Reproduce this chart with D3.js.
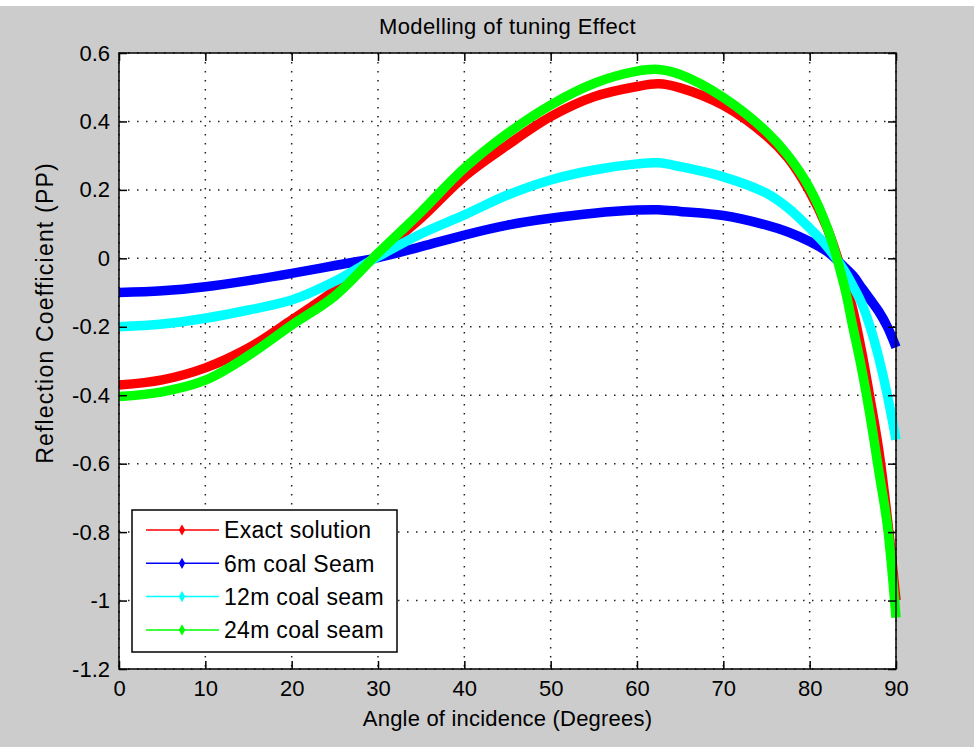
<!DOCTYPE html>
<html>
<head>
<meta charset="utf-8">
<script src="https://cdn.jsdelivr.net/npm/d3@7"></script>
<style>
	body { margin:0; background:#cccccc; }
	text { font-family: "Liberation Sans", Arial, sans-serif; fill:#000; }
</style>
</head>
<body>
<div id="chart" style="width:974px;height:747px;"></div>
<script>

//data
const angles = [0,5,10,15,20,25,30,35,40,45,50,55,60,62.5,65,70,75,77.5,80,82,84,85,86,87,88,89,90];
const exactSolution = [-0.37,-0.355,-0.32,-0.262,-0.18,-0.093,0.012,0.118,0.239,0.331,0.414,0.472,0.502,0.51,0.498,0.447,0.358,0.293,0.195,0.09,-0.06,-0.15,-0.27,-0.41,-0.56,-0.76,-1.0];
const seam6m = [-0.1,-0.095,-0.083,-0.065,-0.044,-0.021,0.002,0.034,0.068,0.097,0.117,0.132,0.141,0.142,0.137,0.125,0.097,0.077,0.049,0.02,-0.025,-0.05,-0.085,-0.12,-0.155,-0.2,-0.26];
const seam12m = [-0.2,-0.192,-0.175,-0.151,-0.122,-0.067,0.005,0.072,0.127,0.185,0.229,0.258,0.276,0.279,0.268,0.238,0.19,0.147,0.088,0.035,-0.035,-0.08,-0.13,-0.2,-0.29,-0.4,-0.53];
const seam24m = [-0.404,-0.39,-0.356,-0.284,-0.195,-0.11,0.015,0.136,0.263,0.365,0.448,0.511,0.547,0.552,0.537,0.47,0.37,0.3,0.205,0.092,-0.08,-0.2,-0.32,-0.46,-0.62,-0.78,-1.05];

const seriesNames = ['Exact solution','6m coal Seam','12m coal seam','24m coal seam'];
const seriesColors = ['#ff0000','#0000ff','#00ffff','#00ff00'];
const seriesValues = [exactSolution, seam6m, seam12m, seam24m];

const xTicks = [0,10,20,30,40,50,60,70,80,90];
const yTicks = [0.6,0.4,0.2,0,-0.2,-0.4,-0.6,-0.8,-1,-1.2];

const rootDOM = document.getElementById('chart');
const W = 974;
const H = 747;
const margin = {t:53, r:78, b:78, l:119};
const innerWidth = W - margin.l - margin.r;
const innerHeight = H - margin.t - margin.b;

const scaleX = d3.scaleLinear().domain([0,90]).range([0, innerWidth]);
const scaleY = d3.scaleLinear().domain([-1.2,0.6]).range([innerHeight, 0]);

const lineGenerator = d3.line()
	.x(d => scaleX(d[0]))
	.y(d => scaleY(d[1]))
	.curve(d3.curveCatmullRom.alpha(0.5));

const svg = d3.select(rootDOM)
	.append('svg')
	.attr('width', W)
	.attr('height', H);

svg.append('rect').attr('width', W).attr('height', H).style('fill','#cccccc');
svg.append('rect').attr('width', W).attr('height', 6).style('fill','#ffffff');

const plot = svg.append('g')
	.attr('class','plot')
	.attr('transform', `translate(${margin.l}, ${margin.t})`);

plot.append('rect')
	.attr('width', innerWidth)
	.attr('height', innerHeight)
	.style('fill','#ffffff');

//dotted grid
plot.append('g').selectAll('line')
	.data(xTicks)
	.join('line')
	.attr('x1', d => scaleX(d)).attr('x2', d => scaleX(d))
	.attr('y1', 0).attr('y2', innerHeight)
	.style('stroke','#222').style('stroke-width',1.5).style('stroke-dasharray','1.5,7.5');
plot.append('g').selectAll('line')
	.data(yTicks)
	.join('line')
	.attr('y1', d => scaleY(d)).attr('y2', d => scaleY(d))
	.attr('x1', 0).attr('x2', innerWidth)
	.style('stroke','#222').style('stroke-width',1.5).style('stroke-dasharray','1.5,7.5');

//curves
seriesValues.forEach((vals, i) => {
	plot.append('path')
		.datum(angles.map((a, j) => [a, vals[j]]))
		.attr('d', d => lineGenerator(d))
		.style('fill','none')
		.style('stroke', seriesColors[i])
		.style('stroke-width', 9.5)
		.style('stroke-linejoin','round');
});

//axes, ticks pointing inward
const axisX = d3.axisBottom(scaleX).tickValues(xTicks).tickSizeInner(-8).tickSizeOuter(0).tickPadding(11);
const axisY = d3.axisLeft(scaleY).tickValues(yTicks).tickSizeInner(-8).tickSizeOuter(0).tickPadding(9)
	.tickFormat(d => String(d));
const axisTop = d3.axisTop(scaleX).tickValues(xTicks).tickSizeInner(-8).tickSizeOuter(0).tickFormat('');
const axisRight = d3.axisRight(scaleY).tickValues(yTicks).tickSizeInner(-8).tickSizeOuter(0).tickFormat('');

plot.append('g').attr('transform', `translate(0, ${innerHeight})`).call(axisX);
plot.append('g').call(axisY);
plot.append('g').call(axisTop);
plot.append('g').attr('transform', `translate(${innerWidth}, 0)`).call(axisRight);

plot.selectAll('.domain').remove();
plot.selectAll('.tick line').style('stroke','#000').style('stroke-width',1.5);
plot.selectAll('.tick text')
	.style('font-size','22px')
	.style('font-family','"Liberation Sans", Arial, sans-serif')
	.style('fill','#000');

plot.append('rect')
	.attr('width', innerWidth)
	.attr('height', innerHeight)
	.style('fill','none')
	.style('stroke','#000')
	.style('stroke-width',1.5);

//legend
const legend = plot.append('g')
	.attr('transform', `translate(${132 - margin.l}, ${510 - margin.t})`);
legend.append('rect')
	.attr('width', 265)
	.attr('height', 142)
	.style('fill','#ffffff')
	.style('stroke','#000')
	.style('stroke-width',1.5);
seriesNames.forEach((name, i) => {
	const row = legend.append('g').attr('transform', `translate(0, ${20 + i*33.3})`);
	row.append('line')
		.attr('x1', 14).attr('x2', 87)
		.style('stroke', seriesColors[i]).style('stroke-width', 1.5);
	row.append('path')
		.attr('d', d3.symbol(d3.symbolDiamond, 36))
		.attr('transform','translate(50,0)')
		.style('fill', seriesColors[i]);
	row.append('text')
		.attr('x', 92)
		.attr('dy','0.36em')
		.style('font-size','23px')
		.style('letter-spacing','0.3px')
		.text(name);
});

//titles
svg.append('text')
	.attr('x', margin.l + innerWidth/2)
	.attr('y', 34)
	.attr('text-anchor','middle')
	.style('font-size','22px')
	.style('letter-spacing','0.4px')
	.text('Modelling of tuning Effect');

svg.append('text')
	.attr('x', margin.l + innerWidth/2)
	.attr('y', 726)
	.attr('text-anchor','middle')
	.style('font-size','22px')
	.style('letter-spacing','0.2px')
	.text('Angle of incidence (Degrees)');

svg.append('text')
	.attr('transform', `translate(53, 313) rotate(-90)`)
	.attr('text-anchor','middle')
	.style('font-size','23px')
	.style('letter-spacing','1.2px')
	.text('Reflection Coefficient (PP)');

</script>
</body>
</html>
